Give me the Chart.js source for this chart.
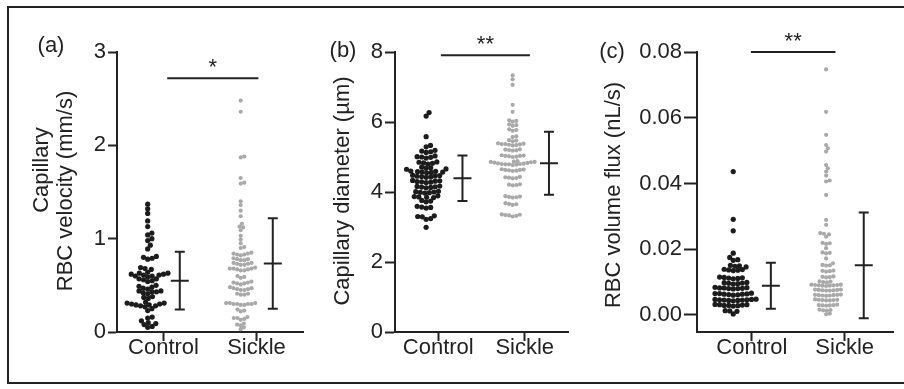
<!DOCTYPE html>
<html>
<head>
<meta charset="utf-8">
<script src="https://cdn.jsdelivr.net/npm/chart.js@4.4.1/dist/chart.umd.min.js"></script>
<style>
  html, body { margin: 0; padding: 0; background: #fff; }
  #wrap { position: relative; width: 904px; height: 389px; overflow: hidden; }
  #frame { position: absolute; left: 7px; top: 6px; width: 920px; height: 378px; border: 2px solid #222; box-sizing: border-box; }
  canvas { position: absolute; left: 0; top: 0; }
</style>
</head>
<body>
<div id="wrap">
  <div id="frame"></div>
  <canvas id="chartA" width="904" height="389"></canvas>
  <canvas id="chartB" width="904" height="389"></canvas>
  <canvas id="chartC" width="904" height="389"></canvas>
</div>
<script>
// groupes
const groups = ['Control', 'Sickle'];

// (a) vitesse des globules rouges (mm/s)
const ctrlVelocity = [1.37, 1.32, 1.27, 1.19, 1.13, 1.06, 1.04, 1.00, 0.98, 0.93, 0.89, 0.81, 0.80, 0.79, 0.78,
  0.69, 0.68, 0.67, 0.64, 0.63, 0.63, 0.62, 0.62, 0.61, 0.61, 0.60, 0.60, 0.59, 0.57, 0.57, 0.56, 0.55, 0.54,
  0.50, 0.49, 0.48, 0.47, 0.46, 0.44, 0.44, 0.43, 0.43, 0.42, 0.41, 0.38, 0.37, 0.36, 0.32, 0.31, 0.31, 0.30,
  0.30, 0.29, 0.29, 0.28, 0.28, 0.27, 0.25, 0.23, 0.16, 0.15, 0.12, 0.10, 0.09, 0.08, 0.06, 0.05];
const sickleVelocity = [2.48, 2.36, 1.88, 1.87, 1.65, 1.60, 1.59, 1.40, 1.36, 1.30, 1.24, 1.16, 1.13, 1.12, 1.09,
  1.03, 0.99, 0.95, 0.91, 0.90, 0.85, 0.84, 0.84, 0.83, 0.83, 0.82, 0.79, 0.78, 0.78, 0.77, 0.77, 0.74, 0.74,
  0.73, 0.73, 0.72, 0.72, 0.69, 0.68, 0.68, 0.68, 0.67, 0.67, 0.66, 0.66, 0.60, 0.59, 0.58, 0.54, 0.53, 0.53,
  0.52, 0.52, 0.51, 0.48, 0.47, 0.47, 0.46, 0.46, 0.45, 0.45, 0.41, 0.41, 0.40, 0.40, 0.31, 0.31, 0.31, 0.30,
  0.30, 0.30, 0.30, 0.29, 0.29, 0.24, 0.23, 0.22, 0.16, 0.15, 0.15, 0.14, 0.13, 0.09, 0.08, 0.07, 0.05, 0.03];
const meanVelocity = [0.55, 0.735];
const sdVelocity = [0.31, 0.485];
const yTicksVelocity = [0, 1, 2, 3];

// (b) diamètre capillaire (µm)
const ctrlDiameter = [6.27, 6.17, 5.58, 5.33, 5.29, 5.19, 5.17, 5.15, 5.13, 5.03, 5.01, 5.00, 4.99, 4.97, 4.86,
  4.85, 4.83, 4.82, 4.80, 4.71, 4.69, 4.68, 4.66, 4.65, 4.60, 4.59, 4.58, 4.57, 4.57, 4.56, 4.55, 4.48, 4.47,
  4.46, 4.45, 4.44, 4.43, 4.42, 4.33, 4.32, 4.31, 4.30, 4.29, 4.28, 4.27, 4.17, 4.16, 4.15, 4.14, 4.13, 4.12,
  4.02, 4.01, 4.00, 3.99, 3.98, 3.97, 3.89, 3.87, 3.86, 3.85, 3.84, 3.76, 3.74, 3.72, 3.59, 3.57, 3.56, 3.54,
  3.32, 3.30, 3.29, 3.24, 3.22, 2.99];
const sickleDiameter = [7.33, 7.22, 7.06, 6.49, 6.29, 6.05, 6.03, 6.01, 5.93, 5.91, 5.89, 5.79, 5.77, 5.75, 5.59,
  5.57, 5.48, 5.47, 5.45, 5.39, 5.38, 5.37, 5.37, 5.36, 5.35, 5.34, 5.33, 5.22, 5.21, 5.20, 5.19, 5.18, 5.05,
  5.04, 5.03, 5.03, 5.02, 5.01, 5.00, 4.88, 4.87, 4.86, 4.86, 4.85, 4.84, 4.83, 4.82, 4.81, 4.80, 4.80, 4.79,
  4.79, 4.78, 4.77, 4.65, 4.64, 4.63, 4.63, 4.62, 4.61, 4.60, 4.43, 4.42, 4.41, 4.40, 4.39, 4.22, 4.21, 4.20,
  4.19, 3.88, 3.87, 3.86, 3.85, 3.84, 3.68, 3.66, 3.65, 3.63, 3.36, 3.35, 3.34, 3.33, 3.32, 3.30];
const meanDiameter = [4.39, 4.82];
const sdDiameter = [0.65, 0.90];
const yTicksDiameter = [0, 2, 4, 6, 8];

// (c) flux volumique (nL/s)
const ctrlFlux = [0.0436, 0.0291, 0.0256, 0.0188, 0.0175, 0.0168, 0.0166, 0.0151, 0.0149, 0.0148, 0.0146, 0.0139,
  0.0138, 0.0137, 0.0136, 0.0135, 0.0115, 0.0114, 0.0113, 0.0112, 0.0111, 0.0110, 0.0099, 0.0098, 0.0097, 0.0096,
  0.0095, 0.0094, 0.0084, 0.0083, 0.0082, 0.0082, 0.0081, 0.0080, 0.0080, 0.0079, 0.0066, 0.0065, 0.0065, 0.0064,
  0.0063, 0.0063, 0.0062, 0.0061, 0.0060, 0.0048, 0.0047, 0.0047, 0.0046, 0.0046, 0.0045, 0.0045, 0.0044, 0.0044,
  0.0043, 0.0032, 0.0031, 0.0031, 0.0030, 0.0029, 0.0029, 0.0028, 0.0027, 0.0013, 0.0012, 0.0011, 0.0003];
const sickleFlux = [0.0747, 0.0618, 0.0548, 0.0517, 0.0507, 0.0497, 0.0456, 0.0446, 0.0436, 0.0424, 0.0409, 0.0406,
  0.0365, 0.0289, 0.0274, 0.0249, 0.0247, 0.0245, 0.0238, 0.0219, 0.0218, 0.0216, 0.0203, 0.0190, 0.0189, 0.0187,
  0.0172, 0.0157, 0.0152, 0.0151, 0.0150, 0.0135, 0.0134, 0.0133, 0.0132, 0.0117, 0.0116, 0.0115, 0.0114, 0.0102,
  0.0101, 0.0100, 0.0099, 0.0092, 0.0092, 0.0091, 0.0091, 0.0090, 0.0090, 0.0089, 0.0089, 0.0088, 0.0077, 0.0077,
  0.0076, 0.0076, 0.0075, 0.0075, 0.0074, 0.0074, 0.0062, 0.0061, 0.0061, 0.0060, 0.0060, 0.0059, 0.0059, 0.0058,
  0.0047, 0.0046, 0.0046, 0.0045, 0.0045, 0.0044, 0.0044, 0.0031, 0.0030, 0.0030, 0.0029, 0.0029, 0.0028, 0.0016,
  0.0015, 0.0014, 0.0013, 0.0004, 0.0002];
const meanFlux = [0.0089, 0.0151];
const sdFlux = [0.0070, 0.0161];
const yTicksFlux = [0, 0.02, 0.04, 0.06, 0.08];

// étoiles de significativité
const sigVelocity = '*';
const sigDiameter = '**';
const sigFlux = '**';


Chart.defaults.font.family = '"Liberation Sans", Arial, Helvetica, sans-serif';
Chart.defaults.color = '#222';

const INK = '#222';
const FONT = '22px "Liberation Sans", Arial, sans-serif';
const dotColors = ['#1c1c1c', '#a9a9a9'];
const dotRadius = [2.6, 2.1];

// Mise en page des trois panneaux
const panels = [
  { id: 'chartA', label: '(a)', labelAt: [51, 46],
    titles: [['Capillary', 42, 170], ['RBC velocity (mm/s)', 66, 191]],
    padLeft: 0, yWidth: 117, right: 303, yMin: 0, yMax: 3, yTicks: yTicksVelocity, decimals: 0, tickLen: 9,
    xMin: 0.5, xMax: 2.5, dotShift: -0.17, barShift: 0.175,
    values: [ctrlVelocity, sickleVelocity], means: meanVelocity, sds: sdVelocity,
    sig: sigVelocity, sigSpan: [1.04, 2.02, 2.72] },
  { id: 'chartB', label: '(b)', labelAt: [343, 51],
    titles: [['Capillary diameter (µm)', 343, 191]],
    padLeft: 310, yWidth: 85, right: 568, yMin: 0, yMax: 8, yTicks: yTicksDiameter, decimals: 0, tickLen: 10,
    xMin: 0.5, xMax: 2.5, dotShift: -0.14, barShift: 0.28,
    values: [ctrlDiameter, sickleDiameter], means: meanDiameter, sds: sdDiameter,
    sig: sigDiameter, sigSpan: [1.03, 2.06, 7.91] },
  { id: 'chartC', label: '(c)', labelAt: [612, 52],
    titles: [['RBC volume flux (nL/s)', 614, 195]],
    padLeft: 590, yWidth: 107, right: 893, yMin: -0.0052, yMax: 0.08, yTicks: yTicksFlux, decimals: 2, tickLen: 13,
    xMin: 0.41, xMax: 2.52, dotShift: -0.2, barShift: 0.205,
    values: [ctrlFlux, sickleFlux], means: meanFlux, sds: sdFlux,
    sig: sigFlux, sigSpan: [0.99, 1.9, 0.08] },
];

// Disposition en essaim (beeswarm) : décalage horizontal en pixels
function swarmOffsets(values, yScale, gap) {
  const order = values.map((v, i) => i).sort((a, b) => values[a] - values[b]);
  const placed = [];
  const out = new Array(values.length).fill(0);
  order.forEach(i => {
    const py = yScale.getPixelForValue(values[i]);
    const near = placed.filter(p => Math.abs(p.y - py) < gap);
    const cands = [0];
    near.forEach(p => {
      const dx = Math.sqrt(gap * gap - (p.y - py) ** 2);
      cands.push(p.x + dx, p.x - dx);
    });
    cands.sort((a, b) => Math.abs(a) - Math.abs(b));
    const x = cands.find(c => near.every(p => (p.x - c) ** 2 + (p.y - py) ** 2 >= gap * gap - 0.01));
    placed.push({ x: x, y: py });
    out[i] = x;
  });
  return out;
}

// Barres d'erreur, significativité et textes
function decorations(p) {
  return {
    id: 'decorations',
    afterDatasetsDraw(chart) {
      const { ctx, scales: { x, y } } = chart;
      ctx.save();
      ctx.strokeStyle = INK;
      ctx.lineWidth = 2;
      p.means.forEach((m, i) => {
        const px = x.getPixelForValue(i + 1 + p.barShift);
        const top = y.getPixelForValue(m + p.sds[i]);
        const bot = y.getPixelForValue(m - p.sds[i]);
        const mid = y.getPixelForValue(m);
        ctx.beginPath();
        ctx.moveTo(px, top); ctx.lineTo(px, bot);
        ctx.moveTo(px - 5, top); ctx.lineTo(px + 5, top);
        ctx.moveTo(px - 5, bot); ctx.lineTo(px + 5, bot);
        ctx.moveTo(px - 9, mid); ctx.lineTo(px + 9, mid);
        ctx.stroke();
      });
      ctx.restore();
    },
    afterDraw(chart) {
      const { ctx, scales: { x, y } } = chart;
      ctx.save();
      ctx.strokeStyle = INK;
      ctx.fillStyle = INK;
      ctx.lineWidth = 2;
      // ligne de significativité
      const [x1, x2, yv] = p.sigSpan;
      const sy = y.getPixelForValue(yv);
      ctx.beginPath();
      ctx.moveTo(x.getPixelForValue(x1), sy);
      ctx.lineTo(x.getPixelForValue(x2), sy);
      ctx.stroke();
      ctx.font = FONT;
      ctx.textAlign = 'center';
      ctx.textBaseline = 'alphabetic';
      ctx.fillText(p.sig, (x.getPixelForValue(x1) + x.getPixelForValue(x2)) / 2, sy - 4);
      // étiquette du panneau
      ctx.textBaseline = 'middle';
      ctx.fillText(p.label, p.labelAt[0], p.labelAt[1]);
      // titre de l'axe y
      p.titles.forEach(([txt, tx, ty]) => {
        ctx.save();
        ctx.translate(tx, ty);
        ctx.rotate(-Math.PI / 2);
        ctx.fillText(txt, 0, 0);
        ctx.restore();
      });
      ctx.restore();
    }
  };
}

panels.forEach(p => {
  const ctx = document.getElementById(p.id);
  const chart = new Chart(ctx, {
    type: 'scatter',
    data: {
      datasets: p.values.map((vals, g) => ({
        label: groups[g],
        data: vals.map(v => ({ x: g + 1 + p.dotShift, y: v })),
        backgroundColor: dotColors[g],
        borderWidth: 0,
        pointRadius: dotRadius[g],
      })),
    },
    options: {
      responsive: false,
      animation: false,
      events: [],
      layout: { padding: { left: p.padLeft, right: 904 - p.right, top: 52, bottom: 17 } },
      plugins: { legend: { display: false }, tooltip: { enabled: false } },
      scales: {
        x: {
          type: 'linear', min: p.xMin, max: p.xMax,
          afterBuildTicks: s => { s.ticks = groups.map((g, i) => ({ value: i + 1 })); },
          afterFit: s => { s.height = 40; },
          ticks: { callback: v => groups[v - 1], font: { size: 22 }, color: INK, padding: -6, autoSkip: false, maxRotation: 0 },
          grid: { drawOnChartArea: false, drawTicks: true, tickLength: 9, tickWidth: 2, tickColor: INK },
          border: { color: INK, width: 2 },
        },
        y: {
          type: 'linear', min: p.yMin, max: p.yMax,
          afterBuildTicks: s => { s.ticks = p.yTicks.map(v => ({ value: v })); },
          afterFit: s => { s.width = p.yWidth; },
          ticks: { callback: v => v.toFixed(p.decimals), font: { size: 22 }, color: INK, padding: 2 },
          grid: { drawOnChartArea: false, drawTicks: true, tickLength: p.tickLen, tickWidth: 2, tickColor: INK },
          border: { color: INK, width: 2 },
        },
      },
    },
    plugins: [decorations(p)],
  });

  // Placement en essaim une fois les échelles connues
  const xs = chart.scales.x, ys = chart.scales.y;
  const unit = xs.getPixelForValue(2) - xs.getPixelForValue(1);
  p.values.forEach((vals, g) => {
    const offs = swarmOffsets(vals, ys, dotRadius[g] * 2 * 0.88);
    chart.data.datasets[g].data = vals.map((v, i) => ({ x: g + 1 + p.dotShift + offs[i] / unit, y: v }));
  });
  chart.update('none');
});
</script>
</body>
</html>
